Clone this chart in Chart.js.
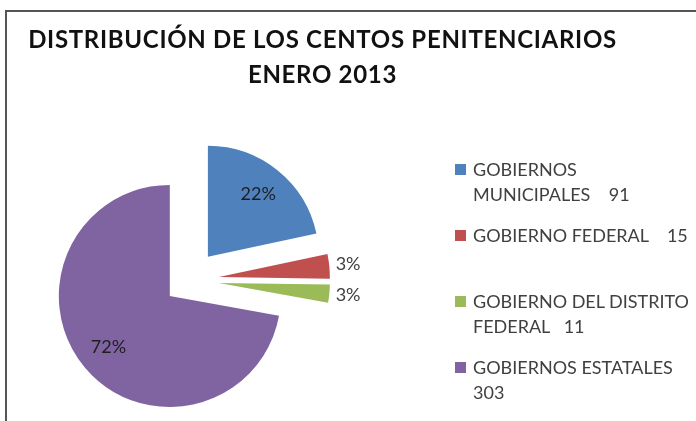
<!DOCTYPE html>
<html>
<head>
<meta charset="utf-8">
<script src="https://cdn.jsdelivr.net/npm/chart.js@4"></script>
<style>
    body { margin: 0; background: #fff; }
    #wrap { position: relative; width: 696px; height: 421px; overflow: hidden; font-family: Lato, "Open Sans", sans-serif; }
    #frame { position: absolute; left: 5px; top: 10px; width: 720px; height: 440px; border-left: 2px solid #555; border-top: 2px solid #555; }
    #title { position: absolute; left: 0; top: 21px; width: 645px; text-align: center; font-weight: bold; font-size: 24px; letter-spacing: 0.7px; line-height: 35px; color: #111; }
    #chart { position: absolute; left: 0; top: 0; }
    .leg { position: absolute; left: 473px; font-size: 18px; line-height: 25px; color: #404040; white-space: pre; }
    .leg i { position: absolute; left: -18px; top: 7px; width: 11px; height: 11px; }
</style>
</head>
<body>
<div id="wrap">
    <div id="frame"></div>
    <canvas id="chart" width="696" height="421"></canvas>
    <div id="title">DISTRIBUCIÓN DE LOS CENTOS PENITENCIARIOS<br>ENERO 2013</div>
    <div id="legend"></div>
</div>
<script>
// data
const categories = ['GOBIERNOS MUNICIPALES', 'GOBIERNO FEDERAL', 'GOBIERNO DEL DISTRITO FEDERAL', 'GOBIERNOS ESTATALES'];
const values = [91, 15, 11, 303];
const pctLabels = ['22%', '3%', '3%', '72%'];
const legendLines = [
    ['GOBIERNOS', 'MUNICIPALES    ' + values[0]],
    ['GOBIERNO FEDERAL    ' + values[1]],
    ['GOBIERNO DEL DISTRITO', 'FEDERAL   ' + values[2]],
    ['GOBIERNOS ESTATALES', '' + values[3]]
];
const colors = ['#4F81BD', '#C0504D', '#9BBB59', '#8064A2'];
const explode = [30, 30, 30, 25];

// html legend
const legend = document.getElementById('legend');
legendLines.forEach((lines, i) => {
    const div = document.createElement('div');
    div.className = 'leg';
    div.style.top = (157 + i * 66) + 'px';
    div.innerHTML = `<i style="background:${colors[i]}"></i>` + lines.join('\n');
    legend.appendChild(div);
});

// pull every slice out along its bisector, like an exploded excel pie
const explodePlugin = {
    id: 'explode',
    afterDatasetsUpdate(chart) {
        chart.getDatasetMeta(0).data.forEach((arc, i) => {
            const mid = (arc.startAngle + arc.endAngle) / 2;
            arc.x += Math.cos(mid) * explode[i];
            arc.y += Math.sin(mid) * explode[i];
        });
    }
};

const pctPlugin = {
    id: 'pct',
    afterDatasetsDraw(chart) {
        const ctx = chart.ctx;
        const total = values.reduce((a, b) => a + b, 0);
        ctx.save();
        ctx.font = '18px Lato, "Open Sans", sans-serif';
        ctx.textAlign = 'center';
        ctx.textBaseline = 'middle';
        chart.getDatasetMeta(0).data.forEach((arc, i) => {
            const mid = (arc.startAngle + arc.endAngle) / 2;
            const inside = values[i] / total > 0.1;
            const r = arc.outerRadius * (inside ? 0.72 : 1.17);
            ctx.fillStyle = inside ? '#1e1e1e' : '#404040';
            ctx.fillText(pctLabels[i], arc.x + Math.cos(mid) * r, arc.y + Math.sin(mid) * r);
        });
        ctx.restore();
    }
};

new Chart(document.getElementById('chart').getContext('2d'), {
    type: 'pie',
    data: {
        labels: categories,
        datasets: [{
            data: values,
            backgroundColor: colors,
            borderWidth: 0
        }]
    },
    options: {
        responsive: false,
        animation: false,
        radius: 111,
        layout: { padding: { left: 0, right: 318, top: 139, bottom: 0 } },
        plugins: {
            legend: { display: false },
            tooltip: { enabled: false }
        }
    },
    plugins: [explodePlugin, pctPlugin]
});
</script>
</body>
</html>
